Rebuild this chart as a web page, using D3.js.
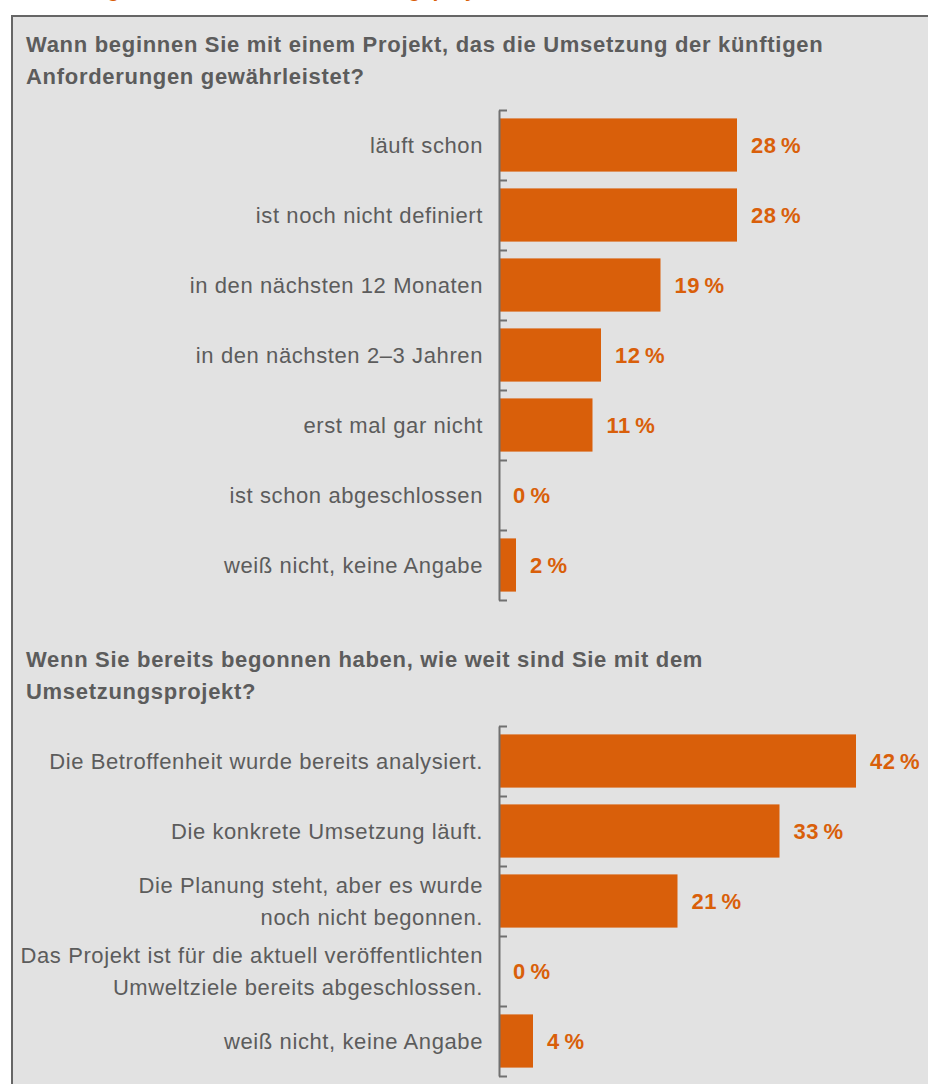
<!DOCTYPE html>
<html>
<head>
<meta charset="utf-8">
<script src="https://cdn.jsdelivr.net/npm/d3@7"></script>
<style>
  body { margin: 0; background: #fff; }
  text { font-family: "Liberation Sans", Arial, sans-serif; }
</style>
</head>
<body>
<div id="chart-container"></div>
<script>
const headerText = "Abbildung 3: Zeitrahmen der Umsetzungsprojekte zur EU-Taxonomie";

const question1 = ["Wann beginnen Sie mit einem Projekt, das die Umsetzung der künftigen", "Anforderungen gewährleistet?"];
const categories1 = [
  "läuft schon",
  "ist noch nicht definiert",
  "in den nächsten 12 Monaten",
  "in den nächsten 2–3 Jahren",
  "erst mal gar nicht",
  "ist schon abgeschlossen",
  "weiß nicht, keine Angabe"
];
const values1 = [28, 28, 19, 12, 11, 0, 2];

const question2 = ["Wenn Sie bereits begonnen haben, wie weit sind Sie mit dem", "Umsetzungsprojekt?"];
const categories2 = [
  ["Die Betroffenheit wurde bereits analysiert."],
  ["Die konkrete Umsetzung läuft."],
  ["Die Planung steht, aber es wurde", "noch nicht begonnen."],
  ["Das Projekt ist für die aktuell veröffentlichten", "Umweltziele bereits abgeschlossen."],
  ["weiß nicht, keine Angabe"]
];
const values2 = [42, 33, 21, 0, 4];

const main = function() {
  const orange = "#d95f0a";
  const grey = "#5c5c5c";
  const axisGrey = "#707070";

  const svg = d3.select("#chart-container")
    .append("svg")
    .attr("width", 928)
    .attr("height", 1084);

  // header line, cut off by the top edge as in the original
  svg.append("text")
    .attr("x", 16)
    .attr("y", -3)
    .attr("fill", orange)
    .style("font-size", "21px")
    .style("font-weight", "bold")
    .text(headerText);

  // panel
  svg.append("rect")
    .attr("x", 12)
    .attr("y", 16)
    .attr("width", 940)
    .attr("height", 1100)
    .attr("fill", "#e2e2e2")
    .attr("stroke", "#666")
    .attr("stroke-width", 2);

  const x = d3.scaleLinear().domain([0, 42]).range([499, 856]);

  const drawBlock = function(question, qTop, cats, vals, top) {
    svg.selectAll()
      .data(question)
      .enter()
      .append("text")
      .attr("x", 26)
      .attr("y", (d, i) => qTop + i * 32)
      .attr("fill", grey)
      .style("font-size", "22px")
      .style("letter-spacing", "0.7px")
      .style("font-weight", "bold")
      .text(d => d);

    const n = cats.length;
    const y = d3.scaleBand()
      .domain(d3.range(n))
      .range([top, top + n * 70])
      .paddingInner(0.24)
      .paddingOuter(0.12);
    const yEdge = d3.scaleLinear().domain([0, n]).range([top, top + n * 70]);

    svg.selectAll()
      .data(vals)
      .enter()
      .append("rect")
      .attr("x", x(0))
      .attr("y", (d, i) => y(i))
      .attr("width", d => x(d) - x(0))
      .attr("height", y.bandwidth())
      .attr("fill", orange);

    const labels = svg.selectAll()
      .data(cats)
      .enter()
      .append("text")
      .attr("text-anchor", "end")
      .attr("fill", grey)
      .style("font-size", "22px")
      .style("letter-spacing", "0.6px")
      .attr("transform", (d, i) => {
        const lines = Array.isArray(d) ? d.length : 1;
        const cy = y(i) + y.bandwidth() / 2 - (lines - 1) * 16 + 8;
        return "translate(483," + cy + ")";
      });
    labels.selectAll("tspan")
      .data(d => Array.isArray(d) ? d : [d])
      .enter()
      .append("tspan")
      .attr("x", 0)
      .attr("y", (d, i) => i * 32)
      .text(d => d);

    svg.selectAll()
      .data(vals)
      .enter()
      .append("text")
      .attr("x", d => x(d) + 14)
      .attr("y", (d, i) => y(i) + y.bandwidth() / 2 + 8)
      .attr("fill", orange)
      .style("font-size", "22px")
      .style("letter-spacing", "0.4px")
      .style("font-weight", "bold")
      .text(d => d + "\u2009%");

    const axis = d3.axisRight(yEdge)
      .ticks(n)
      .tickFormat("")
      .tickSizeInner(8)
      .tickSizeOuter(0);
    const g = svg.append("g")
      .attr("transform", "translate(499,0)")
      .call(axis);
    g.select(".domain").attr("stroke", axisGrey).attr("stroke-width", 2);
    g.selectAll(".tick line").attr("stroke", axisGrey).attr("stroke-width", 2);
  };

  drawBlock(question1, 52, categories1, values1, 110);
  drawBlock(question2, 667, categories2, values2, 726);
};

window.onload = main;
</script>
</body>
</html>
